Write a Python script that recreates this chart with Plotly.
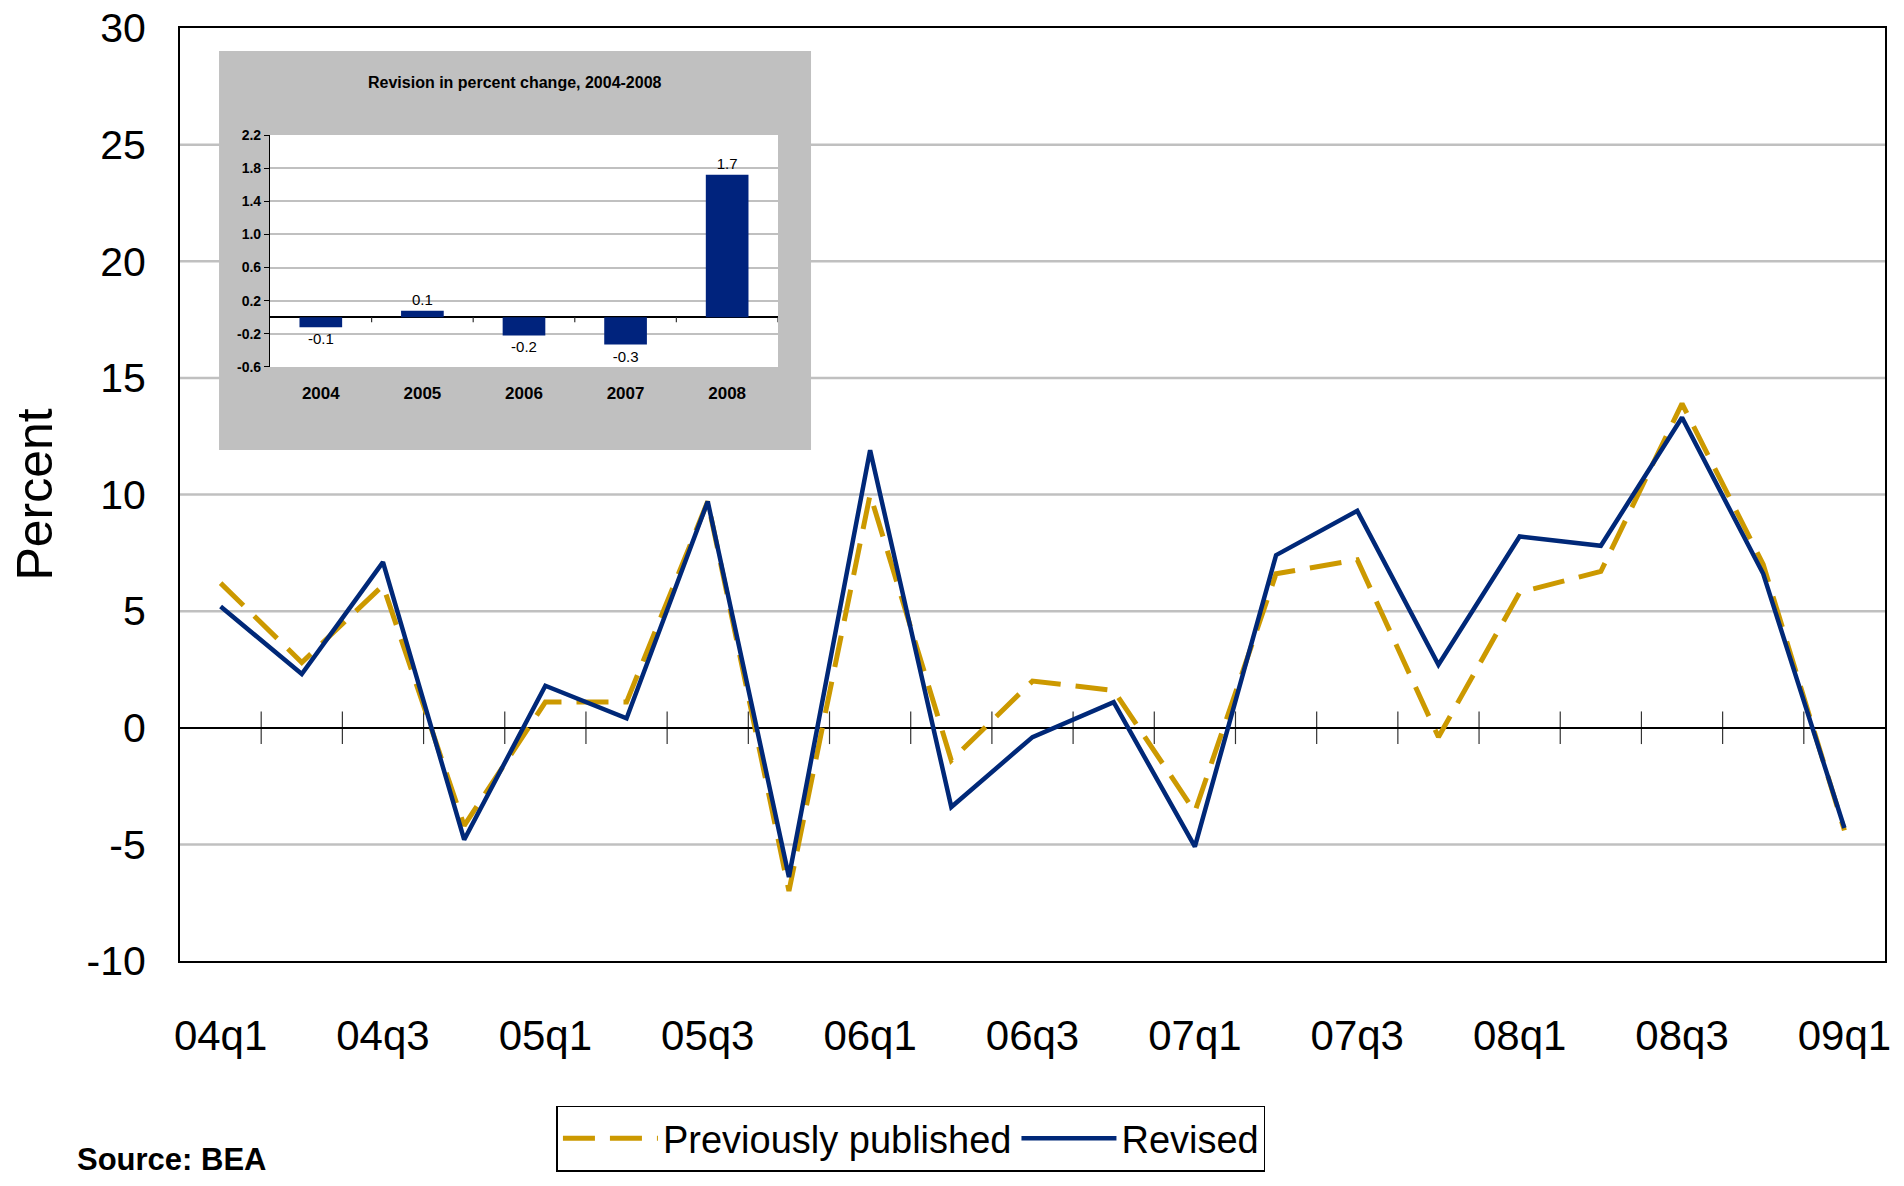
import plotly.graph_objects as go

# ---- data ----
quarters = ["04q1", "04q2", "04q3", "04q4", "05q1", "05q2", "05q3", "05q4",
            "06q1", "06q2", "06q3", "06q4", "07q1", "07q2", "07q3", "07q4",
            "08q1", "08q2", "08q3", "08q4", "09q1"]
previously_published = [6.2, 2.8, 6.1, -4.2, 1.1, 1.1, 9.7, -7.0, 10.0, -1.4, 2.0,
                        1.6, -3.6, 6.6, 7.2, -0.4, 5.8, 6.7, 13.9, 7.0, -4.4]
revised = [5.2, 2.3, 7.1, -4.8, 1.8, 0.4, 9.7, -6.4, 11.9, -3.4, -0.4,
           1.1, -5.1, 7.4, 9.3, 2.7, 8.2, 7.8, 13.3, 6.6, -4.3]

years = ["2004", "2005", "2006", "2007", "2008"]
revision = [-0.12, 0.08, -0.22, -0.33, 1.72]

y_ticks = [-10, -5, 0, 5, 10, 15, 20, 25, 30]
y_ticktext = ["-10", "-5", "0", "5", "10", "15", "20", "25", "30"]
inset_ticks = [-0.6, -0.2, 0.2, 0.6, 1.0, 1.4, 1.8, 2.2]
inset_ticktext = ["-0.6", "-0.2", "0.2", "0.6", "1.0", "1.4", "1.8", "2.2"]

GOLD = "#CC9900"
NAVY = "#002878"
GRID = "#C0C0C0"
ARIAL = "Liberation Sans, Arial, sans-serif"

YMIN, YMAX = -10, 30
xs = list(range(len(quarters)))

fig = go.Figure()
fig.add_trace(go.Scatter(
    x=xs, y=previously_published, mode="lines", name="Previously published",
    line=dict(color=GOLD, width=5, dash="32px,15px"),
    xaxis="x", yaxis="y"))
fig.add_trace(go.Scatter(
    x=xs, y=revised, mode="lines", name="Revised",
    line=dict(color=NAVY, width=4.5),
    xaxis="x", yaxis="y"))

fig.add_trace(go.Bar(
    x=list(range(len(years))), y=revision, marker=dict(color="#00237D", line=dict(width=0)),
    width=0.42, texttemplate="%{y:.1f}", textposition="outside",
    textfont=dict(family=ARIAL, size=15, color="black"), cliponaxis=False,
    showlegend=False, xaxis="x2", yaxis="y2"))

shapes = []
# main gridlines (paper coords, below everything so the inset box covers them)
for v in y_ticks:
    if v in (YMIN, YMAX, 0):
        continue
    yp = (v - YMIN) / (YMAX - YMIN)
    shapes.append(dict(type="line", xref="paper", yref="paper", x0=0, x1=1, y0=yp, y1=yp,
                       line=dict(color=GRID, width=2.5), layer="below"))
# inset grey panel and white plot area
shapes.append(dict(type="rect", xref="paper", yref="paper", x0=0.0229, x1=0.3701,
                   y0=0.5477, y1=0.9753, fillcolor="#C0C0C0", line=dict(width=0), layer="below"))
shapes.append(dict(type="rect", xref="paper", yref="paper", x0=0.0528, x1=0.3507,
                   y0=0.6367, y1=0.8853, fillcolor="white", line=dict(width=0), layer="below"))
# main category-boundary tick marks on zero line
for i in range(len(quarters) - 1):
    shapes.append(dict(type="line", xref="x", yref="y", x0=i + 0.5, x1=i + 0.5, y0=-0.7, y1=0.7,
                       line=dict(color="#333333", width=1.2), layer="below"))
# inset tick marks on zero line
for i in range(len(years)):
    shapes.append(dict(type="line", xref="x2", yref="y2", x0=i + 0.5, x1=i + 0.5, y0=0, y1=-0.06,
                       line=dict(color="#333333", width=1.2), layer="above"))
fig.update_layout(shapes=shapes)

fig.update_layout(
    width=1904, height=1186,
    margin=dict(l=180, r=19, t=28, b=225, autoexpand=False),
    paper_bgcolor="white", plot_bgcolor="white",
    xaxis=dict(range=[-0.5, len(quarters) - 0.5], tickvals=xs[::2], ticktext=quarters[::2],
               showgrid=False, zeroline=False, showline=True, mirror=True,
               linecolor="black", linewidth=2, ticks="", ticklabelstandoff=37,
               automargin=False, ticklabeloverflow="allow",
               tickfont=dict(family=ARIAL, size=42, color="black")),
    yaxis=dict(range=[YMIN, YMAX], tickvals=y_ticks, ticktext=y_ticktext, showgrid=False,
               zeroline=True, zerolinecolor="black", zerolinewidth=1.5,
               showline=True, mirror=True, linecolor="black", linewidth=2,
               ticks="", ticklabelstandoff=24, automargin=False,
               ticklabeloverflow="allow",
               tickfont=dict(family=ARIAL, size=41, color="black")),
    xaxis2=dict(domain=[0.0528, 0.3507], anchor="y2", range=[-0.5, 4.5],
                tickvals=list(range(len(years))), ticktext=years, showgrid=False,
                zeroline=False, showline=False, ticks="", ticklabelstandoff=14,
                automargin=False,
                tickfont=dict(family=ARIAL, size=17, color="black", weight="bold")),
    yaxis2=dict(domain=[0.6367, 0.8853], anchor="x2", range=[-0.6, 2.2],
                tickvals=inset_ticks, ticktext=inset_ticktext, showgrid=True, gridcolor=GRID,
                gridwidth=1.5, zeroline=True, zerolinecolor="black", zerolinewidth=1.5,
                showline=True, linecolor="black", linewidth=1.2, ticks="outside",
                ticklen=5, tickcolor="black", automargin=False,
                tickfont=dict(family=ARIAL, size=14, color="black", weight="bold")),
    legend=dict(orientation="h", x=0.4287, xanchor="center", y=-0.155, yanchor="top",
                bordercolor="black", borderwidth=1.5, bgcolor="white",
                font=dict(family=ARIAL, size=38, color="black"), itemwidth=95,
                tracegroupgap=0),
    annotations=[
        dict(text="Revision in percent change, 2004-2008", xref="paper", yref="paper",
             x=0.1965, y=0.9421, showarrow=False, xanchor="center", yanchor="middle",
             font=dict(family=ARIAL, size=16, color="black", weight="bold")),
        dict(text="Percent", xref="paper", yref="paper", x=-0.0856, y=0.5,
             textangle=-90, showarrow=False, xanchor="center", yanchor="middle",
             font=dict(family=ARIAL, size=50, color="black")),
        dict(text="<b>Source: BEA</b>", xref="paper", yref="paper", x=-0.0616, y=-0.213,
             showarrow=False, xanchor="left", yanchor="middle",
             font=dict(family=ARIAL, size=31, color="black")),
    ],
)

fig.write_html("out.html", config={"displayModeBar": False},
               post_script="document.body.style.margin='0';document.body.style.overflow='hidden';")
